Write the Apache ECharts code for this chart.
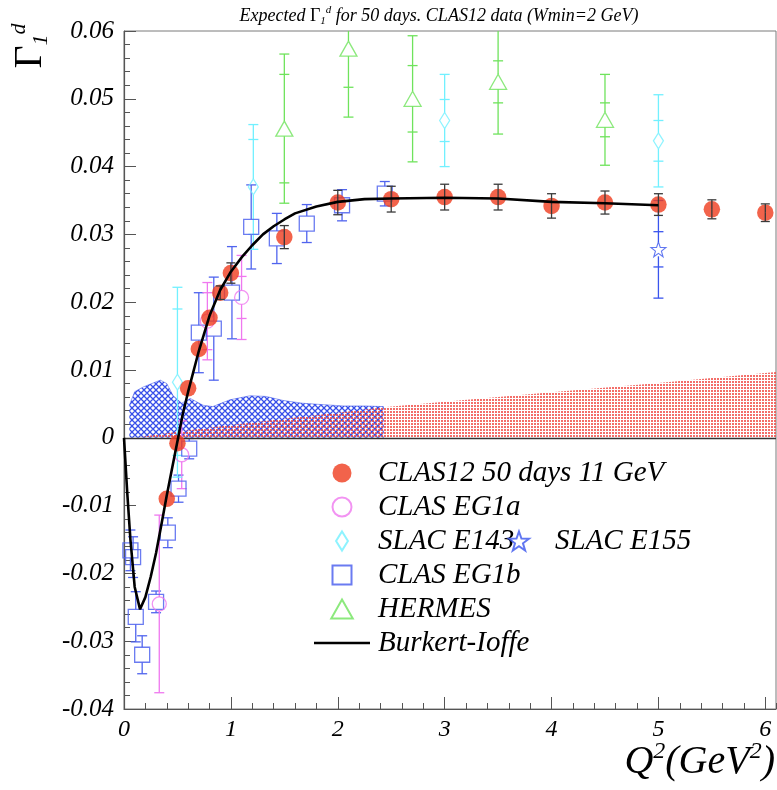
<!DOCTYPE html>
<html>
<head>
<meta charset="utf-8">
<script src="https://cdn.jsdelivr.net/npm/echarts/dist/echarts.min.js"></script>
<style>
html,body{margin:0;padding:0;background:#fff}
#chart{width:777px;height:790px}
</style>
</head>
<body>
<div id="chart"></div>
<script>
// ---- Projected CLAS12 (50 days, 11 GeV) ----
const clas12Q2  = [0.4, 0.5, 0.6, 0.7, 0.8, 0.9, 1.0, 1.5, 2.0, 2.5, 3.0, 3.5, 4.0, 4.5, 5.0, 5.5, 6.0];
const clas12G1  = [-0.0090, -0.0008, 0.0073, 0.0131, 0.0177, 0.0214, 0.0243, 0.0296, 0.0347, 0.0352, 0.0355, 0.0355, 0.0342, 0.0347, 0.0344, 0.0337, 0.0332];
const clas12Err = [0, 0, 0, 0, 0, 0.0010, 0.0015, 0.0017, 0.0018, 0.0019, 0.0019, 0.0019, 0.0018, 0.0017, 0.0016, 0.0014, 0.0013];

// ---- CLAS EG1a ----
const eg1aQ2   = [0.33, 0.54, 0.78, 1.10];
const eg1aG1   = [-0.0245, -0.0025, 0.0172, 0.0207];
const eg1aTot  = [0.0131, 0.0050, 0.0057, 0.0062];
const eg1aStat = [0, 0, 0.0042, 0.0031];

// ---- SLAC E143 ----
const e143Q2   = [0.50, 1.21, 3.0, 5.0];
const e143G1   = [0.0082, 0.0370, 0.0468, 0.0438];
const e143Tot  = [0.0140, 0.0092, 0.0068, 0.0068];
const e143Stat = [0.0108, 0.0070, 0.0031, 0.0030];

// ---- SLAC E155 ----
const e155Q2   = [5.0];
const e155G1   = [0.0278];
const e155Tot  = [0.0072];
const e155Stat = [0.0026];

// ---- CLAS EG1b ----
const eg1bQ2  = [0.06, 0.085, 0.11, 0.17, 0.30, 0.41, 0.51, 0.61, 0.70, 0.84, 1.01, 1.19, 1.43, 1.71, 2.04, 2.44];
const eg1bG1  = [-0.0166, -0.0176, -0.0264, -0.0320, -0.0242, -0.0140, -0.0075, -0.0016, 0.0155, 0.0161, 0.0214, 0.0311, 0.0294, 0.0316, 0.0343, 0.0360];
const eg1bErr = [0.0030, 0.0030, 0.0037, 0.0028, 0.0016, 0.0022, 0.0020, 0.0015, 0.0059, 0.0076, 0.0068, 0.0062, 0.0037, 0.0028, 0.0023, 0.0018];

// ---- HERMES ----
const hermesQ2   = [1.5, 2.1, 2.7, 3.5, 4.5];
const hermesG1   = [0.0456, 0.0574, 0.0500, 0.0525, 0.0469];
const hermesTot  = [0.0110, 0.0101, 0.0093, 0.0077, 0.0067];
const hermesStat = [0.0080, 0.0057, 0.0049, 0.0031, 0.0025];

// ---- Burkert-Ioffe model ----
const biQ2 = [0, 0.03, 0.06, 0.10, 0.15, 0.20, 0.25, 0.30, 0.35, 0.40, 0.45, 0.50, 0.55, 0.60, 0.70, 0.80, 0.90, 1.0, 1.1, 1.2, 1.3, 1.4, 1.5, 1.6, 1.8, 2.0, 2.25, 2.5, 3.0, 3.5, 4.0, 4.5, 5.0];
const biG1 = [0, -0.0080, -0.0150, -0.0220, -0.0253, -0.0235, -0.0205, -0.0170, -0.0128, -0.0085, -0.0045, -0.0005, 0.0035, 0.0068, 0.0128, 0.0180, 0.0218, 0.0245, 0.0266, 0.0284, 0.0300, 0.0312, 0.0322, 0.0331, 0.0341, 0.0348, 0.0352, 0.0353, 0.0354, 0.0353, 0.0348, 0.0346, 0.0343];

// ---- systematic bands ----
const eg1bSysQ2  = [0.05, 0.10, 0.18, 0.26, 0.34, 0.40, 0.46, 0.54, 0.62, 0.74, 0.83, 0.99, 1.18, 1.33, 1.49, 1.67, 1.85, 2.05, 2.25, 2.43];
const eg1bSysTop = [0.0048, 0.0068, 0.0075, 0.0080, 0.0085, 0.0080, 0.0062, 0.0051, 0.0058, 0.0048, 0.0046, 0.0056, 0.0062, 0.0061, 0.0055, 0.0051, 0.0049, 0.0047, 0.0047, 0.0046];
const clas12SysQ2  = [0.1, 0.5, 1.0, 1.5, 2.0, 2.43, 3.0, 4.0, 5.0, 6.1];
const clas12SysTop = [0, 0.0009, 0.0019, 0.0028, 0.0037, 0.0045, 0.0053, 0.0067, 0.0081, 0.0097];

// ---- axis ticks ----
const yTicks = { min: -0.04, max: 0.06, step: 0.01 };
const xTicks = { min: 0, max: 6.1, step: 1, minorStep: 0.2 };

const FONT = "'Liberation Serif', 'DejaVu Serif', serif";
const C = {
  clas12: '#ef3c1e', eg1a: '#ef78ef', e143: '#72f0ff', e155: '#3a55ee',
  eg1b: '#5064ee', hermes: '#6fe35c', axis: '#555555'
};

const SQUARE = 'path://M0,0L15,0L15,15L0,15Z';
const TRIANGLE = 'path://M8.5,0L17,15L0,15Z';
const DIAMOND = 'path://M5,0L10,8L5,16L0,8Z';
const STAR = 'path://M7.5,0L9.26,5.07L14.63,5.18L10.35,8.43L11.91,13.57L7.5,10.5L3.09,13.57L4.65,8.43L0.37,5.18L5.74,5.07Z';
const LINE_ICON = 'path://M0,0L50,0L50,2.4L0,2.4Z';

function zip(...cols) { return cols[0].map((_, i) => cols.map(c => c[i])); }

// hatch fills
function crossHatch() {
  const c = document.createElement('canvas'); c.width = 6; c.height = 6;
  const g = c.getContext('2d');
  g.strokeStyle = '#2c45e8'; g.lineWidth = 1.3;
  g.beginPath();
  g.moveTo(0, 0); g.lineTo(6, 6); g.moveTo(6, 0); g.lineTo(0, 6);
  g.moveTo(-3, 3); g.lineTo(3, 9); g.moveTo(3, -3); g.lineTo(9, 3);
  g.moveTo(3, -3); g.lineTo(-3, 3); g.moveTo(9, 3); g.lineTo(3, 9);
  g.stroke();
  return c;
}
function dotFill() {
  const c = document.createElement('canvas'); c.width = 3; c.height = 3;
  const g = c.getContext('2d');
  g.fillStyle = '#f04a44';
  g.fillRect(0, 0, 2, 2);
  return c;
}

// vertical error bars (total and statistical caps)
function errorBars(color, gap, capHalf, width) {
  return function (params, api) {
    const x = api.value(0), y = api.value(1), tot = api.value(2), st = api.value(3);
    const kids = [];
    if (!(tot > 0)) return { type: 'group', children: kids };
    const p = api.coord([x, y]);
    const cs = params.coordSys;
    const top = cs.y, bottom = cs.y + cs.height;
    const yHi = api.coord([x, y + tot])[1];
    const yLo = api.coord([x, y - tot])[1];
    const seg = (x1, y1, x2, y2) => kids.push({
      type: 'line', shape: { x1, y1, x2, y2 },
      style: { stroke: color, lineWidth: width }
    });
    const hiEnd = Math.max(yHi, top), loEnd = Math.min(yLo, bottom);
    if (p[1] - gap > hiEnd) seg(p[0], p[1] - gap, p[0], hiEnd);
    if (p[1] + gap < loEnd) seg(p[0], p[1] + gap, p[0], loEnd);
    const cap = yy => { if (yy >= top && yy <= bottom) seg(p[0] - capHalf, yy, p[0] + capHalf, yy); };
    cap(yHi); cap(yLo);
    if (st > 0) { cap(api.coord([x, y + st])[1]); cap(api.coord([x, y - st])[1]); }
    return { type: 'group', children: kids };
  };
}

function errSeries(data, color, gap, capHalf, z) {
  return {
    type: 'custom', data, encode: { x: 0, y: 1 }, z, silent: true, clip: true,
    renderItem: errorBars(color, gap, capHalf, 1.3)
  };
}

const chart = echarts.init(document.getElementById('chart'), null, { renderer: 'canvas' });

const labelStyle = { fontFamily: FONT, fontStyle: 'italic', color: '#000' };
const legendText = Object.assign({ fontSize: 29, lineHeight: 34, padding: [0, 0, 0, 3] }, labelStyle);

const option = {
  animation: false,
  backgroundColor: '#fff',
  grid: {
    left: 124, top: 31, right: 1, bottom: 81,
    show: true, borderColor: '#7a7a7a', borderWidth: 1, backgroundColor: 'transparent',
    outerBoundsMode: 'none'
  },
  xAxis: [
    {
      type: 'value', min: xTicks.min, max: xTicks.max, interval: xTicks.minorStep,
      axisLine: { show: true, onZero: false, lineStyle: { color: C.axis, width: 1.2 } },
      axisTick: { show: true, inside: true, length: 6, lineStyle: { color: C.axis, width: 1 } },
      minorTick: { show: false }, splitLine: { show: false },
      axisLabel: { show: false }
    },
    {
      type: 'value', min: xTicks.min, max: xTicks.max, interval: xTicks.step, position: 'bottom',
      axisLine: { show: false, onZero: false },
      axisTick: { show: true, inside: true, length: 12, lineStyle: { color: C.axis, width: 1 } },
      minorTick: { show: false }, splitLine: { show: false },
      axisLabel: Object.assign({
        fontSize: 24, margin: 9, showMaxLabel: false,
        formatter: v => (Math.abs(v - Math.round(v)) < 1e-9 ? String(Math.round(v)) : '')
      }, labelStyle)
    }
  ],
  yAxis: {
    type: 'value', min: yTicks.min, max: yTicks.max, interval: yTicks.step,
    axisLine: { show: true, onZero: false, lineStyle: { color: C.axis, width: 1.2 } },
    axisTick: { show: true, inside: true, length: 12, lineStyle: { color: C.axis, width: 1 } },
    minorTick: { show: true, splitNumber: 5, length: 6, lineStyle: { color: C.axis, width: 1 } },
    splitLine: { show: false },
    axisLabel: Object.assign({
      fontSize: 25, margin: 10,
      formatter: v => (Math.abs(v) < 1e-9 ? '0' : v.toFixed(2))
    }, labelStyle)
  },
  legend: [
    {
      orient: 'vertical', left: 309, top: 451, itemGap: 0, itemWidth: 56, itemHeight: 19,
      selectedMode: false, textStyle: legendText,
      data: [
        'CLAS12 50 days 11 GeV', 'CLAS EG1a', 'SLAC E143', 'CLAS EG1b', 'HERMES',
        { name: 'Burkert-Ioffe', icon: LINE_ICON, itemStyle: { color: '#000' } }
      ]
    },
    {
      orient: 'vertical', left: 503, top: 519, itemGap: 0, itemWidth: 56, itemHeight: 19,
      selectedMode: false, textStyle: legendText,
      data: ['SLAC E155']
    }
  ],
  graphic: [
    {
      type: 'text', x: 439, y: 16, silent: true,
      style: {
        text: 'Expected {g|Γ}{b|1}{t|d} for 50 days. CLAS12 data (Wmin=2 GeV)',
        fontFamily: FONT, fontStyle: 'italic', fontSize: 18, fill: '#000',
        align: 'center', textAlign: 'center', verticalAlign: 'middle', textVerticalAlign: 'middle',
        rich: {
          g: { fontFamily: FONT, fontStyle: 'normal', fontSize: 18, lineHeight: 22 },
          b: { fontFamily: FONT, fontStyle: 'italic', fontSize: 11, verticalAlign: 'bottom', lineHeight: 22 },
          t: { fontFamily: FONT, fontStyle: 'italic', fontSize: 11, verticalAlign: 'top', lineHeight: 22 }
        }
      }
    },
    {
      type: 'text', x: 30, y: 46, rotation: Math.PI / 2, silent: true,
      style: {
        text: '{g|Γ}{b|1}{t|d}',
        align: 'center', textAlign: 'center', verticalAlign: 'middle', textVerticalAlign: 'middle',
        fill: '#000',
        rich: {
          g: { fontFamily: FONT, fontStyle: 'normal', fontSize: 40, lineHeight: 44, verticalAlign: 'middle' },
          b: { fontFamily: FONT, fontStyle: 'italic', fontSize: 22, lineHeight: 44, verticalAlign: 'bottom' },
          t: { fontFamily: FONT, fontStyle: 'italic', fontSize: 22, lineHeight: 44, verticalAlign: 'top' }
        }
      }
    },
    {
      type: 'text', x: 775, y: 762, silent: true,
      style: {
        text: '{m|Q}{p|2}{m|(GeV}{p|2}{m|)}',
        align: 'right', textAlign: 'right', verticalAlign: 'middle', textVerticalAlign: 'middle',
        fill: '#000',
        rich: {
          m: { fontFamily: FONT, fontStyle: 'italic', fontSize: 40, lineHeight: 44, verticalAlign: 'middle' },
          p: { fontFamily: FONT, fontStyle: 'italic', fontSize: 24, lineHeight: 44, verticalAlign: 'top' }
        }
      }
    }
  ],
  series: [
    {
      name: 'EG1b syst', type: 'line', data: zip(eg1bSysQ2, eg1bSysTop), z: 1,
      symbol: 'none', silent: true, lineStyle: { width: 0.8, color: '#2c45e8', opacity: 0.6 },
      areaStyle: { color: { image: crossHatch(), repeat: 'repeat' }, opacity: 0.95 },
      markLine: {
        silent: true, symbol: 'none', label: { show: false },
        lineStyle: { color: '#333', width: 1.3, type: 'solid' },
        data: [{ yAxis: 0 }]
      }
    },
    {
      name: 'CLAS12 syst', type: 'line', data: zip(clas12SysQ2, clas12SysTop), z: 2,
      symbol: 'none', silent: true, lineStyle: { width: 0 },
      areaStyle: { color: { image: dotFill(), repeat: 'repeat' }, opacity: 0.8 }
    },
    errSeries(zip(eg1bQ2, eg1bG1, eg1bErr, eg1bErr.map(() => 0)), C.eg1b, 7.5, 5, 3),
    {
      name: 'CLAS EG1b', type: 'scatter', data: zip(eg1bQ2, eg1bG1), z: 3,
      symbol: SQUARE, symbolSize: 15,
      itemStyle: { color: 'rgba(0,0,0,0)', borderColor: C.eg1b, borderWidth: 1.3, opacity: 0.85 }
    },
    errSeries(zip(eg1aQ2, eg1aG1, eg1aTot, eg1aStat), C.eg1a, 7, 5, 3),
    {
      name: 'CLAS EG1a', type: 'scatter', data: zip(eg1aQ2, eg1aG1), z: 3,
      symbol: 'circle', symbolSize: 14,
      itemStyle: { color: 'rgba(0,0,0,0)', borderColor: C.eg1a, borderWidth: 1.3 }
    },
    errSeries(zip(e143Q2, e143G1, e143Tot, e143Stat), C.e143, 8, 5, 3),
    {
      name: 'SLAC E143', type: 'scatter', data: zip(e143Q2, e143G1), z: 3,
      symbol: DIAMOND, symbolSize: [10, 16],
      itemStyle: { color: 'rgba(0,0,0,0)', borderColor: C.e143, borderWidth: 1.3 }
    },
    errSeries(zip(e155Q2, e155G1, e155Tot, e155Stat), C.e155, 7, 5, 3),
    {
      name: 'SLAC E155', type: 'scatter', data: zip(e155Q2, e155G1), z: 3,
      symbol: STAR, symbolSize: 15,
      itemStyle: { color: 'rgba(0,0,0,0)', borderColor: C.e155, borderWidth: 1.1 }
    },
    errSeries(zip(hermesQ2, hermesG1, hermesTot, hermesStat), C.hermes, 7.5, 5, 3),
    {
      name: 'HERMES', type: 'scatter', data: zip(hermesQ2, hermesG1), z: 3,
      symbol: TRIANGLE, symbolSize: [17, 15],
      itemStyle: { color: 'rgba(0,0,0,0)', borderColor: C.hermes, borderWidth: 1.3 }
    },
    {
      name: 'CLAS12 50 days 11 GeV', type: 'scatter', data: zip(clas12Q2, clas12G1), z: 5,
      symbol: 'circle', symbolSize: 16.5,
      itemStyle: { color: C.clas12 }
    },
    errSeries(zip(clas12Q2, clas12G1, clas12Err, clas12Err.map(() => 0)), '#3a3a3a', 0, 4.5, 6),
    {
      name: 'Burkert-Ioffe', type: 'line', data: zip(biQ2, biG1), z: 7,
      symbol: 'none', smooth: false, silent: true,
      lineStyle: { color: '#000', width: 2.6 },
      itemStyle: { color: '#000' }
    }
  ]
};

chart.setOption(option);
</script>
</body>
</html>
